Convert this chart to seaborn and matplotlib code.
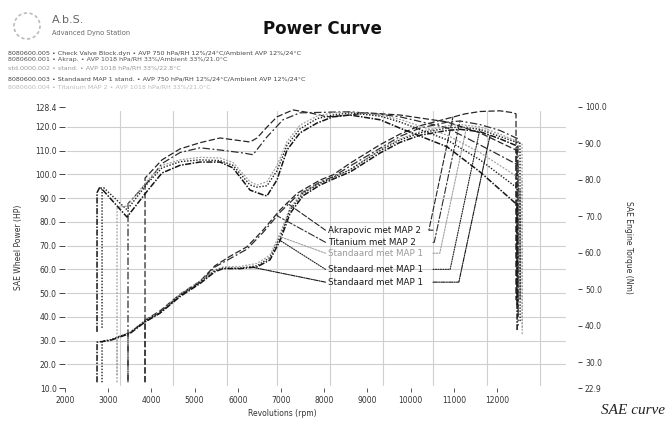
import numpy as np
import pandas as pd
import matplotlib
matplotlib.use("Agg")
import matplotlib.pyplot as plt
import seaborn as sns
from matplotlib.patches import Ellipse

# ---------------- data ----------------
RUN_NAMES = ["Akrapovic met MAP 2", "Titanium met MAP 2", "Standaard met MAP 1",
             "Standaard met MAP 1", "Standaard met MAP 1"]

# Power (hp, left axis)
AKR_P_RPM = [3852, 3853, 4199, 4662, 5125, 5472, 5820, 6213, 6584, 6977, 7371, 7903, 8204, 8598,
             9292, 9755, 10218, 10843, 11260, 11607, 12070, 12371, 12441, 12445]
AKR_P_HP = [12.4, 38.6, 42.5, 49.5, 55.0, 61.5, 65.5, 69.5, 76.5, 85.0, 92.0, 97.6, 99.8, 104.7,
            112.5, 117.0, 120.5, 123.5, 125.5, 126.5, 126.8, 126.0, 125.5, 47.0]

TIT_P_RPM = [3458, 3459, 3505, 3852, 4199, 4662, 5125, 5472, 5820, 6213, 6584, 6977, 7371, 7903,
             8204, 8598, 9292, 9755, 10218, 10843, 11144, 11607, 12070, 12487, 12490]
TIT_P_HP = [12.4, 33.0, 33.5, 38.0, 42.0, 49.0, 54.5, 61.0, 64.5, 68.5, 75.5, 84.0, 91.0, 96.8,
            99.0, 103.5, 111.0, 116.0, 119.5, 122.0, 122.5, 121.0, 118.5, 115.0, 40.0]

STG_P_RPM = [3204, 3205, 3505, 3852, 4199, 4662, 5125, 5472, 5658, 6051, 6445, 6746, 6977, 7209,
             7510, 7903, 8204, 8598, 9292, 9755, 10218, 10843, 11144, 11607, 12070, 12580, 12585]
STG_P_HP = [12.4, 31.5, 33.5, 38.5, 42.0, 49.5, 55.0, 59.8, 61.0, 61.2, 62.5, 66.0, 75.0, 86.0,
            92.5, 96.5, 98.5, 102.0, 110.5, 115.0, 118.0, 120.5, 121.0, 120.0, 117.0, 113.0, 35.0]

STD_P_RPM = [2857, 2858, 3042, 3505, 3852, 4199, 4662, 5125, 5472, 5658, 6051, 6445, 6746, 6977,
             7209, 7510, 7903, 8204, 8598, 9292, 9755, 10218, 10843, 11144, 11607, 12070, 12533, 12536]
STD_P_HP = [12.4, 29.8, 30.3, 33.3, 38.2, 41.8, 49.0, 54.5, 59.5, 60.5, 60.5, 61.5, 65.0, 73.5,
            85.0, 92.0, 96.3, 98.8, 102.0, 110.0, 114.5, 117.5, 119.5, 120.0, 119.0, 116.0, 113.0, 38.0]

STS_P_RPM = [2741, 2742, 3042, 3227, 3505, 3852, 4199, 4662, 5125, 5472, 5658, 6051, 6445, 6746,
             6977, 7209, 7510, 7903, 8204, 8598, 9292, 9755, 10218, 10843, 11144, 11607, 12070,
             12464, 12466]
STS_P_HP = [12.4, 29.3, 30.0, 31.2, 33.0, 37.8, 41.5, 48.5, 54.0, 59.0, 60.3, 60.3, 61.0, 64.0,
            72.0, 83.5, 91.0, 95.5, 98.0, 101.0, 109.0, 113.5, 116.5, 118.5, 119.0, 118.0, 115.0,
            112.0, 45.0]

# Torque (Nm, right axis)
AKR_T_RPM = [3852, 3853, 4246, 4662, 5125, 5588, 6283, 6445, 6676, 6908, 7278, 7672, 8065, 8598,
             8991, 9755, 10843, 11607, 12441, 12445]
AKR_T_NM = [24.5, 80.5, 85.5, 88.5, 90.2, 91.5, 90.4, 91.5, 94.5, 97.3, 99.2, 98.4, 97.3, 97.8,
            98.4, 97.8, 95.9, 92.9, 88.2, 47.1]

TIT_T_RPM = [3458, 3459, 3921, 4246, 4662, 5125, 5588, 6121, 6352, 6676, 7047, 7440, 8598, 9292,
             9755, 10843, 11607, 12487, 12490]
TIT_T_NM = [25.1, 73.5, 79.5, 84.5, 87.5, 88.8, 88.2, 87.4, 86.9, 91.8, 96.5, 98.4, 98.7, 98.0,
            97.3, 94.3, 89.6, 84.1, 40.0]

STG_T_RPM = [3204, 3205, 3435, 3921, 4246, 4662, 5125, 5588, 5889, 6283, 6445, 6676, 6908, 7139,
             7440, 7834, 8204, 8598, 9292, 9755, 10843, 11607, 12580, 12585]
STG_T_NM = [26.5, 72.5, 72.8, 80.0, 84.0, 85.5, 86.2, 86.0, 84.8, 79.5, 78.6, 79.5, 84.0, 90.5,
            95.0, 97.5, 98.4, 98.6, 97.8, 96.6, 92.3, 87.5, 80.0, 37.4]

STD_T_RPM = [2857, 2858, 2900, 3435, 3921, 4246, 4662, 5125, 5588, 5889, 6283, 6445, 6676, 6908,
             7139, 7440, 7834, 8204, 8598, 9292, 9755, 10843, 11607, 12533, 12536]
STD_T_NM = [39.4, 77.5, 77.8, 71.8, 79.2, 83.3, 85.0, 85.5, 85.3, 84.0, 78.6, 78.0, 78.4, 82.5,
            89.5, 94.0, 96.8, 97.8, 98.4, 97.5, 95.9, 91.0, 85.5, 77.2, 47.1]

STS_T_RPM = [2741, 2742, 2810, 3435, 3921, 4246, 4662, 5125, 5588, 5889, 6283, 6584, 6676, 6908,
             7139, 7440, 7834, 8204, 8598, 9292, 9755, 10843, 11607, 12418, 12464, 12466]
STS_T_NM = [38.3, 76.5, 78.1, 69.8, 77.2, 81.9, 84.0, 84.9, 84.9, 83.3, 77.2, 75.9, 75.6, 80.0,
            88.2, 92.9, 95.6, 97.3, 97.8, 96.5, 94.2, 89.1, 82.2, 73.7, 73.5, 38.8]

X_TICKS = [2000, 3000, 4000, 5000, 6000, 7000, 8000, 9000, 10000, 11000, 12000]
LEFT_TICKS = [10.0, 20.0, 30.0, 40.0, 50.0, 60.0, 70.0, 80.0, 90.0, 100.0, 110.0, 120.0, 128.4]
RIGHT_TICKS = [22.9, 30.0, 40.0, 50.0, 60.0, 70.0, 80.0, 90.0, 100.0]

INFO_LINES = [
    "8080600.005 \u2022 Check Valve Block.dyn \u2022 AVP 750 hPa/RH 12%/24\u00b0C/Ambient AVP 12%/24\u00b0C",
    "8080600.001 \u2022 Akrap. \u2022 AVP 1018 hPa/RH 33%/Ambient 33%/21.0\u00b0C",
    "std.0000.002 \u2022 stand. \u2022 AVP 1018 hPa/RH 33%/22.8\u00b0C",
    "8080600.003 \u2022 Standaard MAP 1 stand. \u2022 AVP 750 hPa/RH 12%/24\u00b0C/Ambient AVP 12%/24\u00b0C",
    "8080600.004 \u2022 Titanium MAP 2 \u2022 AVP 1018 hPa/RH 33%/21.0\u00b0C",
]

# ---------------- styling / layout ----------------
power = [(AKR_P_RPM, AKR_P_HP), (TIT_P_RPM, TIT_P_HP), (STG_P_RPM, STG_P_HP),
         (STD_P_RPM, STD_P_HP), (STS_P_RPM, STS_P_HP)]
torque = [(AKR_T_RPM, AKR_T_NM), (TIT_T_RPM, TIT_T_NM), (STG_T_RPM, STG_T_NM),
          (STD_T_RPM, STD_T_NM), (STS_T_RPM, STS_T_NM)]
COLORS = ["#262626", "#2e2e2e", "#a0a0a0", "#1e1e1e", "#151515"]
STYLES = [(0, (5, 2)), (0, (6, 2, 1.5, 2)), (0, (1.5, 1.2)), (0, (1, 1.2)), (0, (4, 1, 1, 1))]
WIDTHS = [0.9, 0.9, 0.9, 1.0, 1.1]
GRID_RPM = [3273, 4500, 5750, 6908, 8135, 9362, 10519, 11769, 12996]
LABEL_RPM = 8090
LABEL_Y = [76.5, 71.4, 66.8, 60.0, 54.6]
LEFT_LEADER_RPM = [7140, 6910, 6950, 6950, 6350]
RIGHT_LEADER_RPM = [10980, 11145, 11305, 11605, 11840]
RIGHT_LEADER_FROM = 10520

sns.set_theme(style="white")
plt.rcParams["font.family"] = ["DejaVu Sans"]

W, H = 671, 429
fig = plt.figure(figsize=(W / 100, H / 100), dpi=100)
fig.patch.set_facecolor("white")
ax = fig.add_axes([65 / W, 1 - 388 / H, (578 - 65) / W, (388 - 107) / H])
ax.set_facecolor("white")
ax2 = ax.twinx()

ax.set_xlim(2000, 2000 + (578 - 65) * 23.15)
ax.set_ylim(10.0, 128.4)
ax2.set_ylim(22.9, 100.0)

# grid
for g in GRID_RPM:
    ax.axvline(g, ymin=0.01, ymax=0.985, color="#cfcfcf", lw=0.8, zorder=0)
for t in LEFT_TICKS[1:-1]:
    ax.axhline(t, xmin=0.004, xmax=0.975, color="#cfcfcf", lw=0.8, zorder=0)

for i in range(5):
    rp, hp = power[i]
    sns.lineplot(x=rp, y=hp, ax=ax, color=COLORS[i], linestyle=STYLES[i], lw=WIDTHS[i],
                 sort=False, estimator=None, legend=False)
    rt, nm = torque[i]
    sns.lineplot(x=rt, y=nm, ax=ax2, color=COLORS[i], linestyle=STYLES[i], lw=WIDTHS[i],
                 sort=False, estimator=None, legend=False)

# annotations with leaders
for i, name in enumerate(RUN_NAMES):
    rp, hp = power[i]
    col = "#1a1a1a" if i != 2 else "#9a9a9a"
    ax.text(LABEL_RPM, LABEL_Y[i], name, fontsize=6.3, color=col, va="center", ha="left")
    yl = float(np.interp(LEFT_LEADER_RPM[i], rp, hp))
    ax.annotate("", xy=(LEFT_LEADER_RPM[i], yl), xytext=(LABEL_RPM - 60, LABEL_Y[i]),
                arrowprops=dict(arrowstyle="-", color=COLORS[i], lw=0.8, linestyle=STYLES[i],
                                shrinkA=0, shrinkB=0))
    yr = float(np.interp(RIGHT_LEADER_RPM[i], rp, hp))
    ax.annotate("", xy=(RIGHT_LEADER_RPM[i], yr), xytext=(RIGHT_LEADER_FROM, LABEL_Y[i]),
                arrowprops=dict(arrowstyle="-", color=COLORS[i], lw=0.8, linestyle=STYLES[i],
                                shrinkA=0, shrinkB=0,
                                connectionstyle="angle,angleA=0,angleB=78,rad=0"))

# ticks
for a in (ax, ax2):
    for s in a.spines.values():
        s.set_visible(False)
    a.grid(False)
ax.set_xticks(X_TICKS)
ax.set_xticklabels([str(v) for v in X_TICKS])
ax.set_yticks(LEFT_TICKS)
ax.set_yticklabels([f"{v:.1f}" for v in LEFT_TICKS])
ax2.set_yticks(RIGHT_TICKS)
ax2.set_yticklabels([f"{v:.1f}" for v in RIGHT_TICKS])
ax.tick_params(axis="x", direction="out", length=3, width=0.7, color="#555", labelsize=5.5,
               labelcolor="#333", pad=3, bottom=True)
ax.tick_params(axis="y", direction="out", length=4, width=0.7, color="#444", labelsize=5.5,
               labelcolor="#333", pad=2, left=True)
ax2.tick_params(axis="y", direction="out", length=3, width=0.7, color="#444", labelsize=5.5,
                labelcolor="#333", pad=2, right=True)
ax.set_xlabel("Revolutions (rpm)", fontsize=5.5, color="#333", labelpad=4)
ax.xaxis.set_label_coords((282 - 65) / (578 - 65), -0.075)
ax.set_ylabel("SAE Wheel Power (HP)", fontsize=5.5, color="#333")
ax.yaxis.set_label_coords(-(65 - 23) / (578 - 65), 0.5)
ax2.set_ylabel("SAE Engine Torque (Nm)", fontsize=5.5, color="#333", rotation=270)
ax2.yaxis.set_label_coords(1 + (633 - 578) / (578 - 65), 0.5)

# header
fig.add_artist(Ellipse((27 / W, 1 - 26 / H), 26 / W, 26 / H, transform=fig.transFigure,
                       fill=False, ec="#bbbbbb", lw=1.2, linestyle=(0, (2, 1.5))))
fig.text(52 / W, 1 - 20 / H, "A.b.S.", fontsize=8, color="#666", va="center")
fig.text(52 / W, 1 - 33 / H, "Advanced Dyno Station", fontsize=4.8, color="#666", va="center")
fig.text(322 / W, 1 - 29 / H, "Power Curve", fontsize=12, fontweight="bold", color="#111",
         ha="center", va="center")
info_y = [53, 60, 68, 79, 87]
info_c = ["#444", "#555", "#999", "#444", "#bbb"]
for y, s, c in zip(info_y, INFO_LINES, info_c):
    fig.text(8 / W, 1 - y / H, s, fontsize=4.6, color=c, va="center")
fig.text(665 / W, 1 - 411 / H, "SAE curve", fontsize=11, fontstyle="italic",
         family=["Liberation Serif", "DejaVu Serif"], color="#222", ha="right", va="center")

fig.savefig("out.png", dpi=100, facecolor="white")
